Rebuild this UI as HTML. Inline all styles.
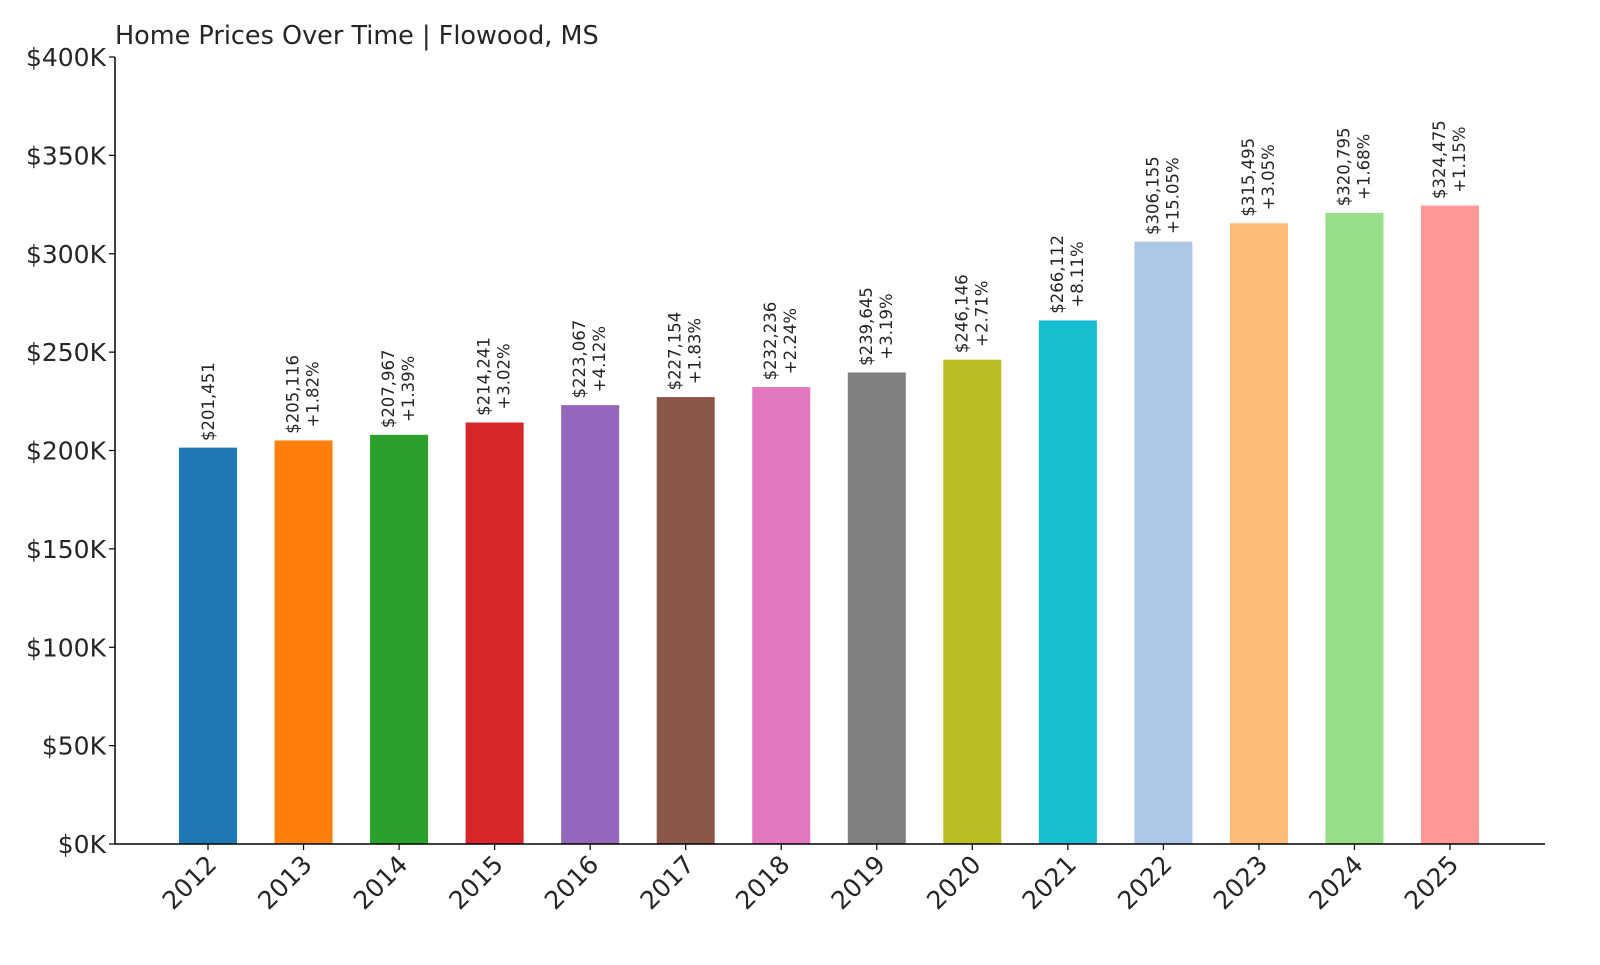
<!DOCTYPE html>
<html><head><meta charset="utf-8"><style>
html,body{margin:0;padding:0;background:#fff;}
svg text{font-family:"DejaVu Sans","Liberation Sans",sans-serif;fill:#262626;}
</style></head><body>
<svg id="chart" width="1600" height="960" viewBox="0 0 1600 960" xmlns="http://www.w3.org/2000/svg">
<text x="115" y="44" font-size="25.5" fill="#333">Home Prices Over Time | Flowood, MS</text>
<g id="bars"></g>
<g id="axes"></g>
</svg>
<script>
const years = ["2012","2013","2014","2015","2016","2017","2018","2019","2020","2021","2022","2023","2024","2025"];
const prices = [201451,205116,207967,214241,223067,227154,232236,239645,246146,266112,306155,315495,320795,324475];
const changes = ["","+1.82%","+1.39%","+3.02%","+4.12%","+1.83%","+2.24%","+3.19%","+2.71%","+8.11%","+15.05%","+3.05%","+1.68%","+1.15%"];
const yTicks = [0,50000,100000,150000,200000,250000,300000,350000,400000];
const yTickLabels = ["$0K","$50K","$100K","$150K","$200K","$250K","$300K","$350K","$400K"];
const colors = ["#1f77b4","#ff7f0e","#2ca02c","#d62728","#9467bd","#8c564b","#e377c2","#7f7f7f","#bcbd22","#17becf","#aec7e8","#ffbb78","#98df8a","#ff9896"];

const NS="http://www.w3.org/2000/svg";
const plotL=115, plotR=1545, plotT=57, plotB=844;
const yMax=400000;
function y(v){return plotB-(v/yMax)*(plotB-plotT);}
const step=95.54, x0=208;
function x(i){return x0+i*step;}
const bw=58;
const bars=document.getElementById('bars');
const axes=document.getElementById('axes');
function mk(tag,attrs,parent){const e=document.createElementNS(NS,tag);for(const k in attrs)e.setAttribute(k,attrs[k]);parent.appendChild(e);return e;}

years.forEach((yr,i)=>{
  const top=y(prices[i]);
  const r=mk('rect',{x:x(i)-bw/2,y:top,width:bw,height:plotB-top,fill:colors[i]},bars);
  
  
  const cy=top-6-40;
  const g=mk('g',{transform:`translate(${x(i)},${cy}) rotate(-90)`},bars);
  
  
  const price='$'+prices[i].toLocaleString('en-US');
  if(changes[i]){
    mk('text',{x:0,y:-5,'text-anchor':'middle','font-size':'16.5'},g).textContent=price;
    mk('text',{x:0,y:15,'text-anchor':'middle','font-size':'16.5'},g).textContent=changes[i];
  } else {
    mk('text',{x:0,y:6,'text-anchor':'middle','font-size':'16.5'},g).textContent=price;
  }
  const tk=mk('line',{x1:x(i),x2:x(i),y1:plotB,y2:plotB+6,stroke:'#000','stroke-width':1.2},axes);
  
  
  const t=mk('text',{x:0,y:0,'text-anchor':'end','font-size':'25',transform:`translate(${x(i)+10},${plotB+22}) rotate(-45)`},axes);
  
  
  t.textContent=yr;
});
yTicks.forEach((v,i)=>{
  const tk=mk('line',{x1:plotL-6,x2:plotL,y1:y(v),y2:y(v),stroke:'#000','stroke-width':1.2},axes);
  
  
  const t=mk('text',{x:plotL-9,y:y(v)+9,'text-anchor':'end','font-size':'25'},axes);
  
  
  t.textContent=yTickLabels[i];
});
const ya=mk('line',{x1:plotL,x2:plotL,y1:plotT,y2:plotB,stroke:'#000','stroke-width':1.5},axes);


const xa=mk('line',{x1:plotL,x2:plotR,y1:plotB,y2:plotB,stroke:'#000','stroke-width':1.5},axes);


</script>
</body></html>
